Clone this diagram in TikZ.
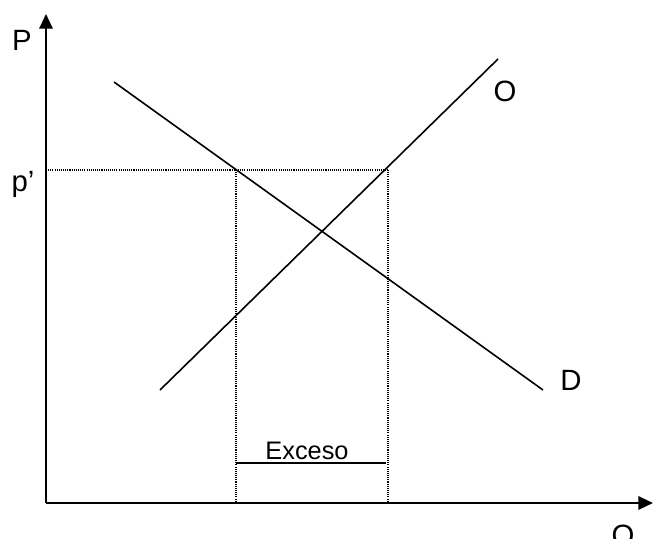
\documentclass[tikz,border=0pt]{standalone}
\usepackage{fontspec}
\setmainfont{Liberation Sans}
\usetikzlibrary{arrows.meta}
\begin{document}
\begin{tikzpicture}[x=0.75pt,y=-0.75pt,%
      every node/.style={inner sep=0pt,outer sep=0pt,font=\fontsize{22}{26}\selectfont},
      axis/.style={line width=1.6pt,-{Triangle[length=11pt,width=10pt]}},
      curve/.style={line width=1.2pt},
      guide/.style={line width=0.8pt,dash pattern=on 0.8pt off 0.8pt}]
      \useasboundingbox (0,0) rectangle (654,539);
      \coordinate (or) at (46,503);
      \coordinate (ytop) at (46,14);
      \coordinate (xend) at (653,503);
      % demanda y oferta
      \coordinate (d1) at (114,82);
      \coordinate (d2) at (543,390);
      \coordinate (s1) at (160,390);
      \coordinate (s2) at (498,59);
      % precio p' y cantidades
      \coordinate (pp) at (46,170);
      \coordinate (qd) at (236,170);
      \coordinate (qs) at (388,170);
      \coordinate (qdb) at (236,503);
      \coordinate (qsb) at (388,503);
      \coordinate (ex1) at (236,463);
      \coordinate (ex2) at (386,463);
      \draw[axis](or)--(ytop);
      \draw[axis](or)--(xend);
      \draw[curve](d1)--(d2);
      \draw[curve](s1)--(s2);
      \draw[guide](pp)--(qs);
      \draw[guide](qd)--(qdb);
      \draw[guide](qs)--(qsb);
      \draw[line width=1pt](ex1)--(ex2);
      \node (lp) at (22,40){P};
      \node (lpp) at (23,184){p’};
      \node (lo) at (505,91){O};
      \node (ld) at (571,380){D};
      \node (lq) at (623,538){Q};
      \node[font=\fontsize{19}{22}\selectfont,anchor=base] (lex) at (307,459){Exceso};
    \end{tikzpicture}
\end{document}
